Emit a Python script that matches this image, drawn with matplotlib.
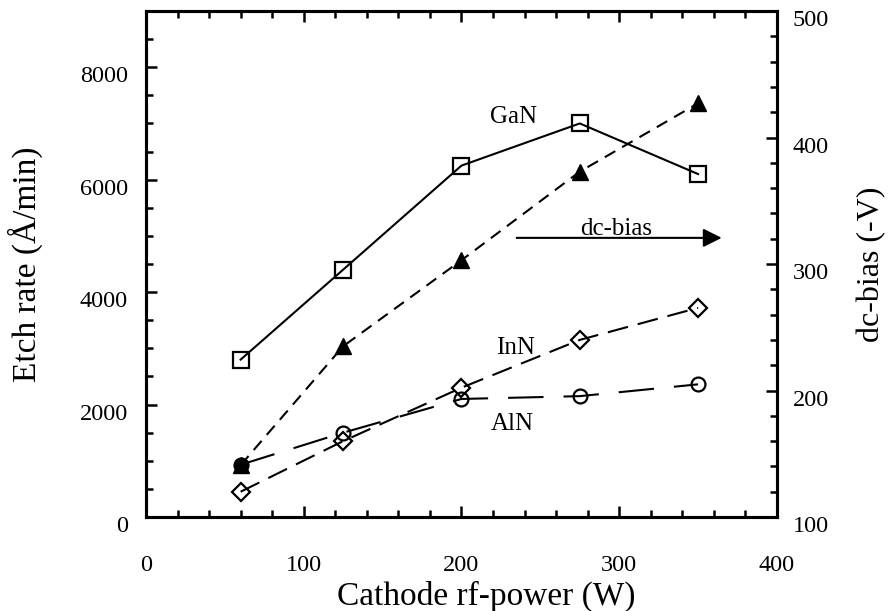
import numpy as np
import matplotlib
matplotlib.use("Agg")
import matplotlib.pyplot as plt
from matplotlib.ticker import MultipleLocator
from matplotlib.transforms import ScaledTranslation

plt.rcParams['font.family'] = ['Liberation Serif', 'DejaVu Serif']

# cathode rf-power (W)
power = [60, 125, 200, 275, 350]

# etch rates (A/min), left axis
gan = [2800, 4400, 6250, 7000, 6100]
inn = [450, 1350, 2300, 3150, 3720]
aln = [930, 1500, 2100, 2150, 2360]

# dc-bias (-V), right axis
dc_bias = [141, 235, 303, 373, 427]

fig = plt.figure(figsize=(8.93, 6.11), dpi=100)
ax = fig.add_subplot(111)
fig.subplots_adjust(left=0.1635, right=0.870, bottom=0.1538, top=0.982)
ax2 = ax.twinx()

lw = 1.5
ax.plot(power, gan, color='black', lw=lw, marker='s', ms=11,
        mfc='none', mec='black', mew=1.6)
ax.plot(power, inn, color='black', lw=lw, ls=(0, (10, 4.8)), marker='D',
        ms=9.5, mfc='none', mec='black', mew=1.6)
ax.plot(power, aln, color='black', lw=lw, ls=(0, (17, 9.6)), marker='o',
        ms=10, mfc='none', mec='black', mew=1.6)
# first AlN point is hidden under the dc-bias marker -> looks filled
ax.plot(power[:1], aln[:1], ls='none', marker='o', ms=10, mfc='black',
        mec='black')
ax2.plot(power, dc_bias, color='black', lw=lw, ls=(0, (5.8, 3.8)),
         marker='^', ms=11, mfc='black', mec='black')

ax.set_xlim(0, 400)
ax.set_ylim(0, 9000)
ax2.set_ylim(100, 500)

ax.xaxis.set_major_locator(MultipleLocator(100))
ax.xaxis.set_minor_locator(MultipleLocator(20))
ax.yaxis.set_major_locator(MultipleLocator(2000))
ax.yaxis.set_minor_locator(MultipleLocator(500))
ax2.yaxis.set_major_locator(MultipleLocator(100))
ax2.yaxis.set_minor_locator(MultipleLocator(20))

ax.tick_params(axis='x', which='both', direction='in', top=True,
               labelsize=17.5, pad=27, width=1.8)
ax.tick_params(axis='y', which='both', direction='in', left=True, right=False,
               labelsize=17.5, pad=13, width=1.8)
ax2.tick_params(axis='y', which='both', direction='in', labelsize=17.5,
                pad=11.5, width=1.8)
for a in (ax, ax2):
    a.tick_params(which='major', length=8)
    a.tick_params(which='minor', length=5)
    for s in a.spines.values():
        s.set_linewidth(2.2)

# y tick labels sit a bit below their ticks in the original
shift = ScaledTranslation(0, -7 / 100, fig.dpi_scale_trans)
for lab in ax.get_yticklabels() + ax2.get_yticklabels():
    lab.set_transform(lab.get_transform() + shift)

ax.set_xlabel('Cathode rf-power (W)', fontsize=24)
ax.xaxis.set_label_coords(0.539, -0.125)
ax.set_ylabel('Etch rate (Å/min)', fontsize=24)
ax.yaxis.set_label_coords(-0.164, 0.5)
ax2.set_ylabel('dc-bias (-V)', fontsize=23, rotation=90)
ax2.yaxis.set_label_coords(1.127, 0.5)

ax.text(233, 7000, 'GaN', fontsize=18, ha='center', va='baseline')
ax.text(234, 2900, 'InN', fontsize=18, ha='center', va='baseline')
ax.text(232, 1540, 'AlN', fontsize=18, ha='center', va='baseline')
ax.text(298, 5020, 'dc-bias', fontsize=18, ha='center', va='baseline')
ax.annotate('', xy=(365, 4965), xytext=(235, 4965),
            arrowprops=dict(arrowstyle='-|>', color='black', lw=1.5,
                            mutation_scale=28, shrinkA=0, shrinkB=0))

fig.savefig('out.png', dpi=100)
